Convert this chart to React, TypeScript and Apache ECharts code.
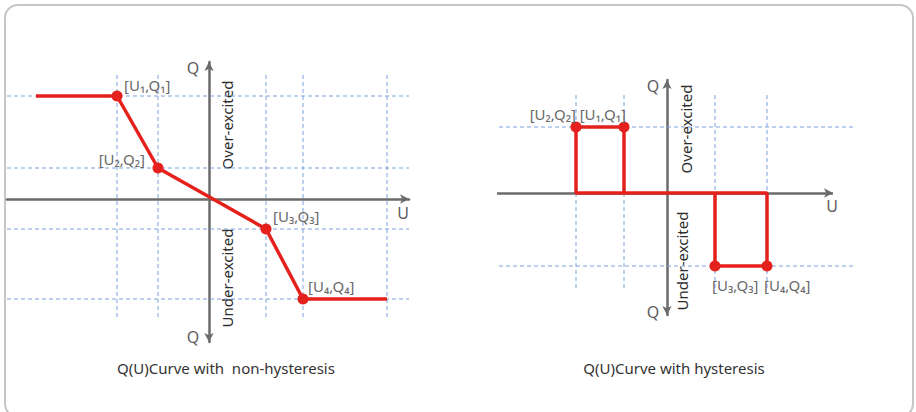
import React, { useEffect, useRef } from "react";
import * as echarts from "echarts";

// ---- Left chart: Q(U) curve with non-hysteresis ----
const leftLabels = ["[U₁,Q₁]", "[U₂,Q₂]", "[U₃,Q₃]", "[U₄,Q₄]"];
const leftU = [-92, -51, 57, 94];
const leftQ = [103, 31, -30, -100];
const leftStartU = -173;
const leftEndU = 178;
const leftGridU = [-92, -51, 57, 94, 178];
const leftGridQ = [103, 31, -30, -100];

// ---- Right chart: Q(U) curve with hysteresis ----
const rightLabels = ["[U₁,Q₁]", "[U₂,Q₂]", "[U₃,Q₃]", "[U₄,Q₄]"];
const rightU = [-43, -91, 48, 100];
const rightQ = [66, 66, -73, -73];
const rightGridU = [-91, -43, 48, 100];
const rightGridQ = [66, -73];

const titles = ["Q(U)Curve with  non-hysteresis", "Q(U)Curve with hysteresis"];
const zoneTexts = ["Over-excited", "Under-excited"];

const RED = "#e5211d";
const DASH = "#7da2dc";
const AXIS = "#6b6b6b";
const FONT = "Noto Sans";

export default function App() {
  const ref = useRef<HTMLDivElement>(null);
  useEffect(() => {
    if (!ref.current) return;
    const chart = echarts.init(ref.current, null, { renderer: "svg" });

    const axisCommon = (symbol: string[], show = true) => ({
      type: "value",
      axisLine: {
        show,
        onZero: true,
        symbol,
        symbolSize: [7, 9],
        lineStyle: { color: AXIS, width: 2.5 },
      },
      axisTick: { show: false },
      axisLabel: { show: false },
      splitLine: { show: false },
    });

    const dashStyle = { color: DASH, width: 1, type: [4, 3] };
    const dashSeries = (xi: number, pts: number[][]) => ({
      type: "line",
      xAxisIndex: xi,
      yAxisIndex: xi,
      data: pts,
      symbol: "none",
      silent: true,
      clip: false,
      lineStyle: dashStyle,
      z: 1,
    });

    const series: any[] = [];
    // left grid dashed lines
    leftGridU.forEach((u) => series.push(dashSeries(0, [[u, 124], [u, -118]])));
    leftGridQ.forEach((q) => series.push(dashSeries(0, [[-202, q], [200, q]])));
    // right grid dashed lines
    rightGridU.forEach((u) => series.push(dashSeries(1, [[u, 98], [u, -97]])));
    rightGridQ.forEach((q) => series.push(dashSeries(1, [[-168, q], [187, q]])));

    // right U axis drawn as an arrowed mark line (grid is wider than the axis)
    series.push({
      type: "line",
      xAxisIndex: 1,
      yAxisIndex: 1,
      data: [],
      silent: true,
      z: 3,
      markLine: {
        silent: true,
        symbol: ["none", "arrow"],
        symbolSize: [7, 9],
        label: { show: false },
        lineStyle: { color: AXIS, width: 2.5, type: "solid" },
        data: [[{ coord: [-170, 0] }, { coord: [166, 0] }]],
      },
    });

    // left red curve
    series.push({
      type: "line",
      xAxisIndex: 0,
      yAxisIndex: 0,
      symbol: "none",
      clip: false,
      lineStyle: { color: RED, width: 3.5 },
      data: [
        [leftStartU, leftQ[0]],
        ...leftU.map((u, i) => [u, leftQ[i]]),
        [leftEndU, leftQ[3]],
      ],
      z: 5,
    });
    const leftLabelCfg = [
      { align: "left", offset: [7, -11] },
      { align: "right", offset: [-13, -9] },
      { align: "left", offset: [7, -13] },
      { align: "left", offset: [5, -13] },
    ];
    series.push({
      type: "scatter",
      xAxisIndex: 0,
      yAxisIndex: 0,
      symbolSize: 11,
      itemStyle: { color: RED, opacity: 1 },
      clip: false,
      z: 6,
      data: leftU.map((u, i) => ({
        value: [u, leftQ[i]],
        label: {
          show: true,
          formatter: leftLabels[i],
          position: "inside",
          align: leftLabelCfg[i].align,
          verticalAlign: "middle",
          offset: leftLabelCfg[i].offset,
          color: "#6a6a6a",
          fontSize: 15,
          fontFamily: FONT,
        },
      })),
    });

    // right red curve (hysteresis loops)
    series.push({
      type: "line",
      xAxisIndex: 1,
      yAxisIndex: 1,
      symbol: "none",
      clip: false,
      lineStyle: { color: RED, width: 3.5 },
      data: [
        [rightU[0], 0],
        [rightU[0], rightQ[0]],
        [rightU[1], rightQ[1]],
        [rightU[1], 0],
        [rightU[3], 0],
        [rightU[3], rightQ[3]],
        [rightU[2], rightQ[2]],
        [rightU[2], 0],
      ],
      z: 5,
    });
    const rightLabelCfg = [
      { align: "right", offset: [2, -13] },
      { align: "right", offset: [0, -13] },
      { align: "left", offset: [-3, 19] },
      { align: "left", offset: [-3, 19] },
    ];
    series.push({
      type: "scatter",
      xAxisIndex: 1,
      yAxisIndex: 1,
      symbolSize: 11,
      itemStyle: { color: RED, opacity: 1 },
      clip: false,
      z: 6,
      data: rightU.map((u, i) => ({
        value: [u, rightQ[i]],
        label: {
          show: true,
          formatter: rightLabels[i],
          position: "inside",
          align: rightLabelCfg[i].align,
          verticalAlign: "middle",
          offset: rightLabelCfg[i].offset,
          color: "#6a6a6a",
          fontSize: 15,
          fontFamily: FONT,
        },
      })),
    });

    const axisName = (text: string, x: number, y: number) => ({
      type: "text",
      x,
      y,
      style: {
        text,
        fill: "#5e5e5e",
        font: `16px "${FONT}"`,
        align: "center",
        verticalAlign: "middle",
      },
    });
    const zone = (text: string, x: number, y: number) => ({
      type: "text",
      x,
      y,
      rotation: Math.PI / 2,
      style: {
        text,
        fill: "#2e2e2e",
        font: `15px "${FONT}"`,
        align: "center",
        verticalAlign: "middle",
      },
    });

    chart.setOption({
      animation: false,
      backgroundColor: "#ffffff",
      grid: [
        { left: 7, top: 62, width: 402, height: 280, containLabel: false },
        { left: 497, top: 80, width: 357, height: 235, containLabel: false },
      ],
      xAxis: [
        { ...axisCommon(["none", "arrow"]), gridIndex: 0, min: -202, max: 200 },
        { ...axisCommon(["none", "arrow"], false), gridIndex: 1, min: -170, max: 187 },
      ],
      yAxis: [
        { ...axisCommon(["arrow", "arrow"]), gridIndex: 0, min: -143, max: 137 },
        { ...axisCommon(["arrow", "arrow"]), gridIndex: 1, min: -122, max: 113 },
      ],
      title: [
        {
          text: titles[0],
          left: 221,
          top: 355,
          textAlign: "center",
          textStyle: { color: "#333", fontSize: 15, fontWeight: "normal", fontFamily: FONT },
        },
        {
          text: titles[1],
          left: 669,
          top: 355,
          textAlign: "center",
          textStyle: { color: "#333", fontSize: 15, fontWeight: "normal", fontFamily: FONT },
        },
      ],
      graphic: [
        {
          type: "rect",
          shape: { x: 5, y: 5, width: 908, height: 412, r: 13 },
          style: { fill: "none", stroke: "#c6c6c6", lineWidth: 2 },
          silent: true,
          z: -1,
        },
        axisName("Q", 193, 68),
        axisName("Q", 193, 337),
        axisName("U", 403, 213),
        axisName("Q", 653, 86),
        axisName("Q", 653, 312),
        axisName("U", 832, 206),
        zone(zoneTexts[0], 227, 125),
        zone(zoneTexts[1], 227, 278),
        zone(zoneTexts[0], 686, 129),
        zone(zoneTexts[1], 682, 261),
      ],
      series,
    });
    return () => chart.dispose();
  }, []);
  return (
    <div
      ref={ref}
      style={{ position: "fixed", left: 0, top: 0, width: 916, height: 412 }}
    />
  );
}
